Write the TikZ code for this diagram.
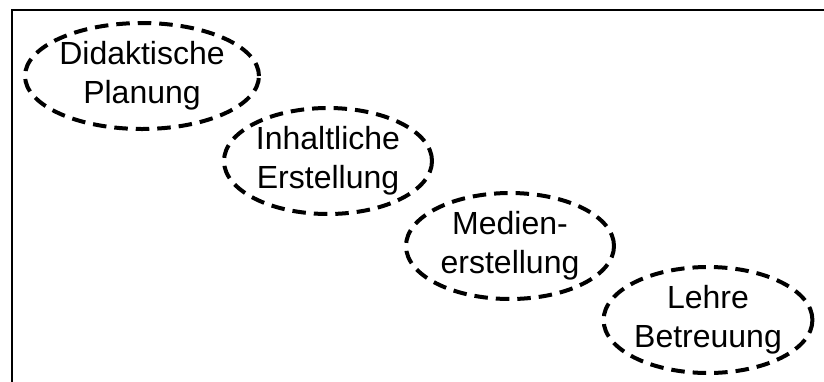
\documentclass[tikz,border=0pt]{standalone}
\usepackage{fontspec}
\setmainfont{Liberation Sans}
\usetikzlibrary{shapes.geometric}
\begin{document}
\begin{tikzpicture}[x=1pt,y=-1pt,
  phase/.style={ellipse, draw, line width=4pt, dash pattern=on 13.5pt off 8pt,
    minimum width=208pt, minimum height=106pt, inner sep=0pt, align=center,
    font=\fontsize{32}{39}\selectfont}]
\useasboundingbox (0,0) rectangle (824,381);
% frame, running off the right and bottom edges
\draw[line width=2pt] (840,10) -- (12,10) -- (12,400);
% the four phases, stepping down to the right
\node[phase, minimum width=219pt] (plan) at (142,76) {Didaktische\\Planung};
\node[phase] (inhalt) at (328,161) {Inhaltliche\\Erstellung};
\node[phase] (medien) at (510,246) {Medien-\\erstellung};
\node[phase] (lehre) at (708,320) {Lehre\\Betreuung};
\end{tikzpicture}
\end{document}
